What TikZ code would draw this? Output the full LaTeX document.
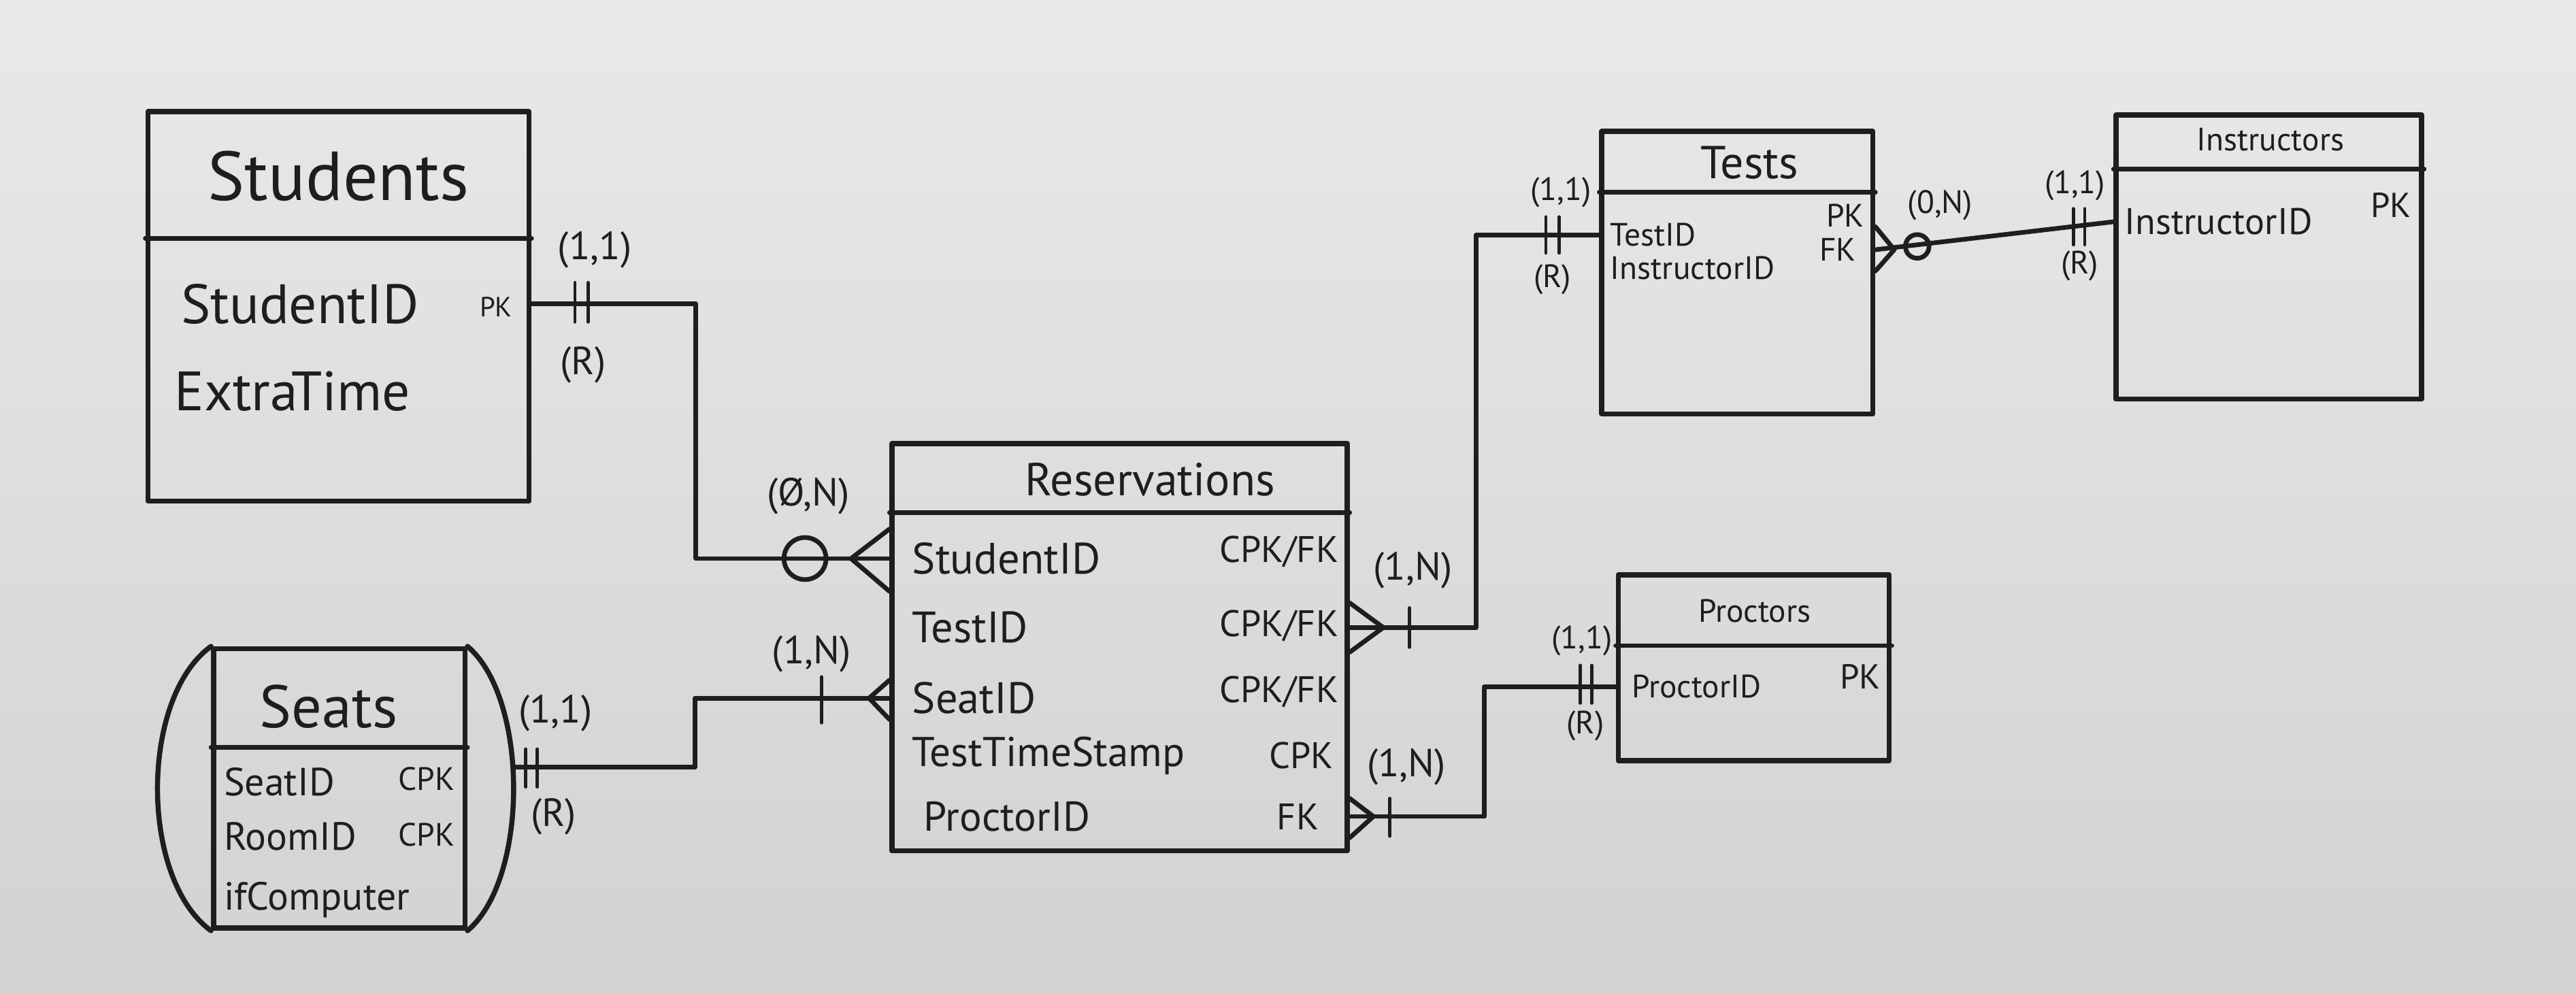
\documentclass[tikz,border=0pt]{standalone}
\usepackage{fontspec}
\setmainfont{PT Sans}
\usetikzlibrary{calc,fit}
\definecolor{ink}{RGB}{30,30,30}
\definecolor{boardtop}{RGB}{233,233,231}
\definecolor{boardbot}{RGB}{210,210,208}
\newcommand{\fs}[1]{\fontsize{#1}{#1}\selectfont}

\begin{document}
\begin{tikzpicture}[x=0.025cm, y=-0.025cm, line join=round, line cap=round,
  ent/.style={draw=ink, line width=2.2pt, inner sep=0pt},
  sep/.style={draw=ink, line width=2pt},
  conn/.style={draw=ink, line width=2pt},
  mk/.style={draw=ink, line width=1.4pt},
  att/.style={text=ink, anchor=west, inner sep=0pt},
  key/.style={text=ink, anchor=east, inner sep=0pt},
  card/.style={text=ink, font=\fs{17}, inner sep=0pt}]
\useasboundingbox (0,0) rectangle (1568,605);
\shade[top color=boardtop, bottom color=boardbot] (0,0) rectangle (1568,605);

\node[ent, fit={(90,68) (322,305)}] (stu) {};
\draw[sep] (stu.west |- 0,145) -- (stu.east |- 0,145);
\node[text=ink, font=\fs{30}] (stuT) at (206,107) {Students};
\node[att, font=\fs{24}] (stuA1) at (110,185) {StudentID};
\node[att, font=\fs{24}] (stuA2) at (106,238) {ExtraTime};
\node[key, font=\fs{12}] (stuK1) at (312,187) {PK};

\node[ent, fit={(130,395) (283,565)}] (sea) {};
\draw[ent] (sea.north west) .. controls (85,425) and (85,535) .. (sea.south west);
\draw[ent] (sea.north east) .. controls (322,425) and (322,535) .. (sea.south east);
\draw[sep] (sea.west |- 0,455) -- (sea.east |- 0,455);
\node[text=ink, font=\fs{26}] (seaT) at (200,430) {Seats};
\node[att, font=\fs{17}] (seaA1) at (136,476) {SeatID};
\node[att, font=\fs{17}] (seaA2) at (136,509) {RoomID};
\node[att, font=\fs{17}] (seaA3) at (136,548) {ifComputer};
\node[key, font=\fs{14}] (seaK1) at (277,474) {CPK};
\node[key, font=\fs{14}] (seaK2) at (277,508) {CPK};
\coordinate (seaR) at (312,467);

\node[ent, fit={(543,270) (820,518)}] (res) {};
\draw[sep] (res.west |- 0,312) -- (res.east |- 0,312);
\node[text=ink, font=\fs{20}] (resT) at (700,292) {Reservations};
\node[att, font=\fs{19}] (resA1) at (555,340) {StudentID};
\node[att, font=\fs{19}] (resA2) at (555,382) {TestID};
\node[att, font=\fs{19}] (resA3) at (555,425) {SeatID};
\node[att, font=\fs{18}] (resA4) at (555,460) {TestTimeStamp};
\node[att, font=\fs{18}] (resA5) at (562,497) {ProctorID};
\node[key, font=\fs{16}] (resK1) at (815,336) {CPK/FK};
\node[key, font=\fs{16}] (resK2) at (815,381) {CPK/FK};
\node[key, font=\fs{16}] (resK3) at (815,421) {CPK/FK};
\node[key, font=\fs{16}] (resK4) at (812,460) {CPK};
\node[key, font=\fs{16}] (resK5) at (803,497) {FK};

\node[ent, fit={(975,80) (1140,252)}] (tes) {};
\draw[sep] (tes.west |- 0,117) -- (tes.east |- 0,117);
\node[text=ink, font=\fs{20}] (tesT) at (1065,99) {Tests};
\node[att, font=\fs{14}] (tesA1) at (980,143) {TestID};
\node[att, font=\fs{14}] (tesA2) at (980,163) {InstructorID};
\node[key, font=\fs{14}] (tesK1) at (1135,131) {PK};
\node[key, font=\fs{14}] (tesK2) at (1130,152) {FK};

\node[ent, fit={(1288,70) (1474,243)}] (ins) {};
\draw[sep] (ins.west |- 0,103) -- (ins.east |- 0,103);
\node[text=ink, font=\fs{14}] (insT) at (1382,85) {Instructors};
\node[att, font=\fs{16}] (insA1) at (1293,135) {InstructorID};
\node[key, font=\fs{15}] (insK1) at (1468,125) {PK};

\node[ent, fit={(985,350) (1150,463)}] (pro) {};
\draw[sep] (pro.west |- 0,393) -- (pro.east |- 0,393);
\node[text=ink, font=\fs{14}] (proT) at (1068,372) {Proctors};
\node[att, font=\fs{14}] (proA1) at (993,418) {ProctorID};
\node[key, font=\fs{15}] (proK1) at (1145,412) {PK};

\draw[conn] (stu.east |- stuA1) -- ++(100,0) |- (res.west |- resA1);
\draw[conn] (seaR) -- ++(111,0) |- (res.west |- resA3);
\draw[conn] (res.east |- resA2) -- ++(77,0) |- (tes.west |- tesA1);
\draw[conn] (res.east |- resA5) -- ++(82,0) |- (pro.west |- proA1);
\draw[conn] (tes.east |- tesK2) -- (ins.west |- insA1);

\draw[mk] (350,172) -- (350,196) (358,172) -- (358,196);
\draw[conn] (res.west |- 0,322) -- (518,340) -- (res.west |- 0,360);
\draw[conn] (490,340) circle[radius=0.32cm];
\draw[mk] (320,456) -- (320,479) (327,456) -- (327,479);
\draw[mk] (500,412) -- (500,440);
\draw[conn] (res.west |- 0,414) -- (529,425) -- (res.west |- 0,438);
\draw[conn] (res.east |- 0,367) -- (842,382) -- (res.east |- 0,397);
\draw[mk] (858,370) -- (858,394);
\draw[conn] (res.east |- 0,486) -- (836,497) -- (res.east |- 0,510);
\draw[mk] (846,486) -- (846,509);
\draw[mk] (941,132) -- (941,154) (949,132) -- (949,154);
\draw[conn] (tes.east |- 0,138) -- (1153,152) -- (tes.east |- 0,165);
\draw[conn] (1167,150) circle[radius=0.18cm];
\draw[mk] (1262,127) -- (1262,149) (1269,127) -- (1269,149);
\draw[mk] (962,405) -- (962,428) (969,405) -- (969,428);

\node[card] (c1) at (362,152) {(1,1)};
\node[card] (c2) at (355,222) {(R)};
\node[card] (c3) at (492,302) {(Ø,N)};
\node[card] (c4) at (338,434) {(1,1)};
\node[card] (c5) at (337,497) {(R)};
\node[card] (c6) at (494,398) {(1,N)};
\node[card] (c7) at (860,347) {(1,N)};
\node[card] (c8) at (856,467) {(1,N)};
\node[card, font=\fs{14}] (c9) at (950,117) {(1,1)};
\node[card, font=\fs{14}] (c10) at (945,170) {(R)};
\node[card, font=\fs{14}] (c11) at (1181,125) {(0,N)};
\node[card, font=\fs{14}] (c12) at (1263,113) {(1,1)};
\node[card, font=\fs{14}] (c13) at (1266,162) {(R)};
\node[card, font=\fs{14}] (c14) at (963,390) {(1,1)};
\node[card, font=\fs{14}] (c15) at (965,442) {(R)};
\end{tikzpicture}
\end{document}
